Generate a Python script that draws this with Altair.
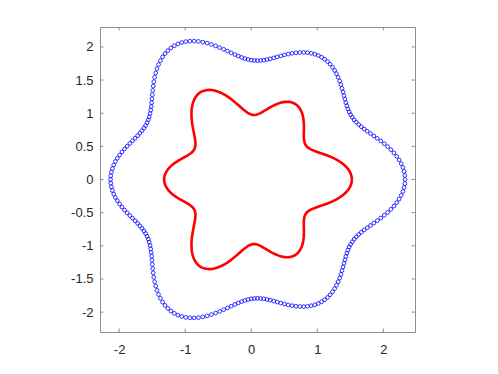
import altair as alt
import pandas as pd

angles_deg = [
    0, 1.5, 3, 4.5, 6, 7.5, 9, 10.5, 12, 13.5, 15, 16.5, 18, 19.5, 21, 22.5, 24, 25.5, 27, 28.5,
    30, 31.5, 33, 34.5, 36, 37.5, 39, 40.5, 42, 43.5, 45, 46.5, 48, 49.5, 51, 52.5, 54, 55.5, 57, 58.5,
    60, 61.5, 63, 64.5, 66, 67.5, 69, 70.5, 72, 73.5, 75, 76.5, 78, 79.5, 81, 82.5, 84, 85.5, 87, 88.5,
    90, 91.5, 93, 94.5, 96, 97.5, 99, 100.5, 102, 103.5, 105, 106.5, 108, 109.5, 111, 112.5, 114, 115.5, 117, 118.5,
    120, 121.5, 123, 124.5, 126, 127.5, 129, 130.5, 132, 133.5, 135, 136.5, 138, 139.5, 141, 142.5, 144, 145.5, 147, 148.5,
    150, 151.5, 153, 154.5, 156, 157.5, 159, 160.5, 162, 163.5, 165, 166.5, 168, 169.5, 171, 172.5, 174, 175.5, 177, 178.5,
    180, 181.5, 183, 184.5, 186, 187.5, 189, 190.5, 192, 193.5, 195, 196.5, 198, 199.5, 201, 202.5, 204, 205.5, 207, 208.5,
    210, 211.5, 213, 214.5, 216, 217.5, 219, 220.5, 222, 223.5, 225, 226.5, 228, 229.5, 231, 232.5, 234, 235.5, 237, 238.5,
    240, 241.5, 243, 244.5, 246, 247.5, 249, 250.5, 252, 253.5, 255, 256.5, 258, 259.5, 261, 262.5, 264, 265.5, 267, 268.5,
    270, 271.5, 273, 274.5, 276, 277.5, 279, 280.5, 282, 283.5, 285, 286.5, 288, 289.5, 291, 292.5, 294, 295.5, 297, 298.5,
    300, 301.5, 303, 304.5, 306, 307.5, 309, 310.5, 312, 313.5, 315, 316.5, 318, 319.5, 321, 322.5, 324, 325.5, 327, 328.5,
    330, 331.5, 333, 334.5, 336, 337.5, 339, 340.5, 342, 343.5, 345, 346.5, 348, 349.5, 351, 352.5, 354, 355.5, 357, 358.5,
    360,
]

# outer curve (blue circles): radius at each angle
blue_r = [
    2.330, 2.327, 2.318, 2.304, 2.284, 2.259, 2.231, 2.198, 2.162, 2.125, 2.086, 2.046, 2.007, 1.970, 1.934, 1.901, 1.872, 1.847, 1.826, 1.811,
    1.800, 1.795, 1.795, 1.800, 1.810, 1.825, 1.843, 1.865, 1.890, 1.917, 1.944, 1.973, 2.001, 2.027, 2.052, 2.075, 2.094, 2.109, 2.121, 2.128,
    2.130, 2.128, 2.121, 2.109, 2.094, 2.075, 2.052, 2.027, 2.001, 1.973, 1.944, 1.917, 1.890, 1.865, 1.843, 1.825, 1.810, 1.800, 1.795, 1.795,
    1.800, 1.811, 1.826, 1.847, 1.872, 1.901, 1.934, 1.970, 2.007, 2.046, 2.086, 2.125, 2.162, 2.198, 2.231, 2.259, 2.284, 2.304, 2.318, 2.327,
    2.330, 2.327, 2.318, 2.304, 2.284, 2.259, 2.231, 2.198, 2.162, 2.125, 2.086, 2.046, 2.007, 1.970, 1.934, 1.901, 1.872, 1.847, 1.826, 1.811,
    1.800, 1.795, 1.795, 1.800, 1.810, 1.825, 1.843, 1.865, 1.890, 1.917, 1.944, 1.973, 2.001, 2.027, 2.052, 2.075, 2.094, 2.109, 2.121, 2.128,
    2.130, 2.128, 2.121, 2.109, 2.094, 2.075, 2.052, 2.027, 2.001, 1.973, 1.944, 1.917, 1.890, 1.865, 1.843, 1.825, 1.810, 1.800, 1.795, 1.795,
    1.800, 1.811, 1.826, 1.847, 1.872, 1.901, 1.934, 1.970, 2.007, 2.046, 2.086, 2.125, 2.162, 2.198, 2.231, 2.259, 2.284, 2.304, 2.318, 2.327,
    2.330, 2.327, 2.318, 2.304, 2.284, 2.259, 2.231, 2.198, 2.162, 2.125, 2.086, 2.046, 2.007, 1.970, 1.934, 1.901, 1.872, 1.847, 1.826, 1.811,
    1.800, 1.795, 1.795, 1.800, 1.810, 1.825, 1.843, 1.865, 1.890, 1.917, 1.944, 1.973, 2.001, 2.027, 2.052, 2.075, 2.094, 2.109, 2.121, 2.128,
    2.130, 2.128, 2.121, 2.109, 2.094, 2.075, 2.052, 2.027, 2.001, 1.973, 1.944, 1.917, 1.890, 1.865, 1.843, 1.825, 1.810, 1.800, 1.795, 1.795,
    1.800, 1.811, 1.826, 1.847, 1.872, 1.901, 1.934, 1.970, 2.007, 2.046, 2.086, 2.125, 2.162, 2.198, 2.231, 2.259, 2.284, 2.304, 2.318, 2.327,
]

# inner curve (red line): radius at each angle (closed)
red_r = [
    1.525, 1.521, 1.512, 1.498, 1.477, 1.452, 1.422, 1.389, 1.352, 1.314, 1.274, 1.233, 1.193, 1.154, 1.118, 1.084, 1.054, 1.028, 1.007, 0.991,
    0.980, 0.975, 0.975, 0.980, 0.991, 1.006, 1.025, 1.047, 1.073, 1.100, 1.129, 1.158, 1.186, 1.214, 1.240, 1.263, 1.282, 1.298, 1.310, 1.317,
    1.320, 1.317, 1.310, 1.298, 1.282, 1.263, 1.240, 1.214, 1.186, 1.158, 1.129, 1.100, 1.073, 1.047, 1.025, 1.006, 0.991, 0.980, 0.975, 0.975,
    0.980, 0.991, 1.007, 1.028, 1.054, 1.084, 1.118, 1.154, 1.193, 1.233, 1.274, 1.314, 1.352, 1.389, 1.422, 1.452, 1.477, 1.498, 1.512, 1.521,
    1.525, 1.521, 1.512, 1.498, 1.477, 1.452, 1.422, 1.389, 1.352, 1.314, 1.274, 1.233, 1.193, 1.154, 1.118, 1.084, 1.054, 1.028, 1.007, 0.991,
    0.980, 0.975, 0.975, 0.980, 0.991, 1.006, 1.025, 1.047, 1.073, 1.100, 1.129, 1.158, 1.186, 1.214, 1.240, 1.263, 1.282, 1.298, 1.310, 1.317,
    1.320, 1.317, 1.310, 1.298, 1.282, 1.263, 1.240, 1.214, 1.186, 1.158, 1.129, 1.100, 1.073, 1.047, 1.025, 1.006, 0.991, 0.980, 0.975, 0.975,
    0.980, 0.991, 1.007, 1.028, 1.054, 1.084, 1.118, 1.154, 1.193, 1.233, 1.274, 1.314, 1.352, 1.389, 1.422, 1.452, 1.477, 1.498, 1.512, 1.521,
    1.525, 1.521, 1.512, 1.498, 1.477, 1.452, 1.422, 1.389, 1.352, 1.314, 1.274, 1.233, 1.193, 1.154, 1.118, 1.084, 1.054, 1.028, 1.007, 0.991,
    0.980, 0.975, 0.975, 0.980, 0.991, 1.006, 1.025, 1.047, 1.073, 1.100, 1.129, 1.158, 1.186, 1.214, 1.240, 1.263, 1.282, 1.298, 1.310, 1.317,
    1.320, 1.317, 1.310, 1.298, 1.282, 1.263, 1.240, 1.214, 1.186, 1.158, 1.129, 1.100, 1.073, 1.047, 1.025, 1.006, 0.991, 0.980, 0.975, 0.975,
    0.980, 0.991, 1.007, 1.028, 1.054, 1.084, 1.118, 1.154, 1.193, 1.233, 1.274, 1.314, 1.352, 1.389, 1.422, 1.452, 1.477, 1.498, 1.512, 1.521,
    1.525,
]

x_ticks = [-2, -1, 0, 1, 2]
y_ticks = [-2, -1.5, -1, -0.5, 0, 0.5, 1, 1.5, 2]
x_domain = [-2.29, 2.48]
y_domain = [-2.3, 2.3]

W, H = 315, 305
BOX = "#8f8f8f"
TXT = "#262626"
FONT = "Liberation Sans"

blue_df = pd.DataFrame({"a": angles_deg[: len(blue_r)], "r": blue_r})
red_df = pd.DataFrame({"a": angles_deg[: len(red_r)], "r": red_r})

xs = alt.Scale(domain=x_domain, nice=False, zero=False)
ys = alt.Scale(domain=y_domain, nice=False, zero=False)

x_axis = alt.Axis(values=x_ticks, labelExpr="'' + datum.value", ticks=False, tickSize=0,
                  domain=False, grid=False, title=None, labelPadding=11,
                  labelFont=FONT, labelFontSize=13, labelColor=TXT)
y_axis = alt.Axis(values=y_ticks, labelExpr="'' + datum.value", ticks=False, tickSize=0,
                  domain=False, grid=False, title=None, labelPadding=7,
                  labelFont=FONT, labelFontSize=13, labelColor=TXT)

blue = alt.Chart(blue_df).transform_calculate(
    x="datum.r * cos(datum.a * PI / 180)",
    y="datum.r * sin(datum.a * PI / 180)",
).mark_point(shape="circle", filled=False, color="#0000ff", size=14, strokeWidth=0.8, opacity=1).encode(
    x=alt.X("x:Q", scale=xs, axis=x_axis),
    y=alt.Y("y:Q", scale=ys, axis=y_axis),
)

red = alt.Chart(red_df).transform_calculate(
    x="datum.r * cos(datum.a * PI / 180)",
    y="datum.r * sin(datum.a * PI / 180)",
).mark_line(color="#ff0000", strokeWidth=2.6).encode(
    x=alt.X("x:Q", scale=xs, axis=x_axis),
    y=alt.Y("y:Q", scale=ys, axis=y_axis),
    order=alt.Order("a:Q"),
)

xt_df = pd.DataFrame({"x": x_ticks})
yt_df = pd.DataFrame({"y": y_ticks})
TL = 3.5

xt_bottom = alt.Chart(xt_df).mark_rule(color=BOX, strokeWidth=1).encode(
    x=alt.X("x:Q", scale=xs, axis=x_axis), y=alt.value(H), y2=alt.value(H - TL))
xt_top = alt.Chart(xt_df).mark_rule(color=BOX, strokeWidth=1).encode(
    x=alt.X("x:Q", scale=xs, axis=x_axis), y=alt.value(0), y2=alt.value(TL))
yt_left = alt.Chart(yt_df).mark_rule(color=BOX, strokeWidth=1).encode(
    y=alt.Y("y:Q", scale=ys, axis=y_axis), x=alt.value(0), x2=alt.value(TL))
yt_right = alt.Chart(yt_df).mark_rule(color=BOX, strokeWidth=1).encode(
    y=alt.Y("y:Q", scale=ys, axis=y_axis), x=alt.value(W), x2=alt.value(W - TL))

chart = alt.layer(blue, red, xt_bottom, xt_top, yt_left, yt_right).properties(
    width=W, height=H,
    autosize=alt.AutoSizeParams(type="none"),
    padding={"left": 92, "top": 19, "right": 60, "bottom": 30},
    background="white",
).configure_view(stroke=BOX, strokeWidth=1)

chart.save("out.html", embed_options={"renderer": "svg", "actions": False})
